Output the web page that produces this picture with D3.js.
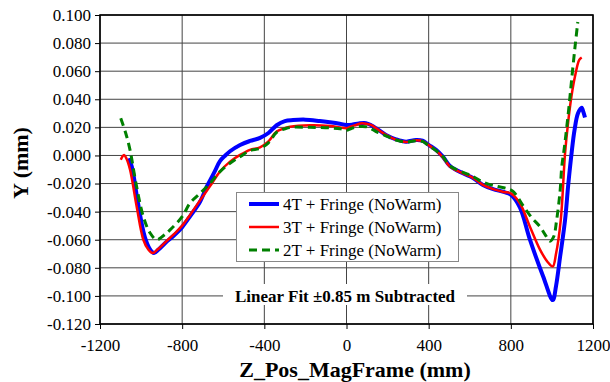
<!DOCTYPE html>
<html><head><meta charset="utf-8">
<script src="https://cdn.jsdelivr.net/npm/d3@7"></script>
<style>body{margin:0;background:#fff}svg{display:block}svg text{font-family:'Liberation Serif','Times New Roman',serif}</style>
</head><body>
<svg id="c" width="610" height="382"></svg>
<script>
const xTicks = [-1200, -800, -400, 0, 400, 800, 1200];
const yTicks = [0.100, 0.080, 0.060, 0.040, 0.020, 0.000, -0.020, -0.040, -0.060, -0.080, -0.100, -0.120];
const seriesNames = ["4T + Fringe (NoWarm)", "3T + Fringe (NoWarm)", "2T + Fringe (NoWarm)"];

const x4 = [-1060,-1045,-1015,-982,-958,-937,-915,-880,-840,-800,-760,-713,-680,-665,-640,-616,-590,-567,-518,-470,-421,-380,-340,-300,-260,-200,-130,-80,-40,0,30,60,95,120,144,192,241,290,338,370,400,436,470,504,567,616,664,714,765,800,844,893,957,1004,1020,1040,1064,1080,1096,1110,1127,1145,1153,1161];
const y4 = [-0.002,-0.008,-0.034,-0.058,-0.0665,-0.0695,-0.067,-0.062,-0.057,-0.051,-0.043,-0.033,-0.022,-0.018,-0.011,-0.004,0.000,0.003,0.0075,0.0103,0.0125,0.016,0.0215,0.0245,0.0252,0.0255,0.0245,0.0236,0.0228,0.0217,0.022,0.0228,0.023,0.0215,0.0194,0.0146,0.0115,0.0098,0.011,0.0105,0.0075,0.004,-0.001,-0.0075,-0.0127,-0.016,-0.021,-0.024,-0.026,-0.028,-0.037,-0.060,-0.086,-0.103,-0.093,-0.072,-0.046,-0.020,0.002,0.018,0.030,0.034,0.031,0.027];

const x3 = [-1099,-1090,-1083,-1072,-1054,-1022,-989,-965,-944,-920,-880,-840,-800,-760,-713,-665,-616,-567,-518,-470,-421,-380,-340,-300,-275,-178,-80,-32,0,20,46,75,100,124,144,192,241,290,338,370,400,436,470,504,567,616,664,714,765,800,844,893,942,980,1004,1020,1043,1064,1080,1095,1112,1133,1145];
const y3 = [-0.003,-0.0005,0.0004,-0.002,-0.010,-0.036,-0.060,-0.067,-0.0695,-0.067,-0.0615,-0.056,-0.050,-0.042,-0.032,-0.022,-0.0115,-0.0044,0.0004,0.004,0.0058,0.010,0.017,0.0195,0.0205,0.0215,0.021,0.020,0.0194,0.0205,0.0217,0.023,0.0225,0.0215,0.0194,0.0146,0.0112,0.0096,0.0108,0.0102,0.0074,0.0035,-0.0015,-0.008,-0.0127,-0.016,-0.021,-0.024,-0.026,-0.027,-0.034,-0.0507,-0.067,-0.076,-0.079,-0.070,-0.046,0.0016,0.025,0.042,0.056,0.068,0.0697];

const x2 = [-1099,-1075,-1054,-1022,-989,-957,-924,-890,-859,-800,-762,-713,-665,-616,-567,-518,-470,-421,-380,-340,-300,-275,-178,-80,-30,0,20,46,95,120,144,192,241,290,338,370,400,436,470,504,567,616,664,731,780,812,861,900,942,970,991,1008,1023,1040,1048,1060,1072,1084,1096,1113,1126];
const y2 = [0.0265,0.016,0.004,-0.022,-0.0436,-0.055,-0.060,-0.057,-0.053,-0.0436,-0.034,-0.027,-0.020,-0.0115,-0.0055,-0.0009,0.0034,0.005,0.009,0.0165,0.019,0.020,0.020,0.0196,0.019,0.018,0.019,0.0203,0.0205,0.019,0.017,0.014,0.011,0.0096,0.0105,0.010,0.007,0.0035,-0.001,-0.0075,-0.012,-0.015,-0.019,-0.022,-0.0235,-0.0258,-0.036,-0.044,-0.0507,-0.057,-0.061,-0.058,-0.046,-0.025,-0.008,0.005,0.020,0.036,0.054,0.078,0.095];

const colors = ["#0000ff", "#ff0000", "#008000"];
const widths = [4, 2.5, 3];
const dashes = [null, null, "8,5"];
const FONT = "'Liberation Serif', 'Times New Roman', serif";

const svg = d3.select("#c");
const L = 100, R = 593, T = 15, B = 324;
const x = d3.scaleLinear().domain([-1200, 1200]).range([L, R]);
const y = d3.scaleLinear().domain([-0.12, 0.10]).range([B, T]);

// gridlines
const g = svg.append("g");
g.selectAll("line.hy").data(yTicks).join("line")
  .attr("x1", L).attr("x2", R).attr("y1", d => y(d)).attr("y2", d => y(d))
  .attr("stroke", "#444").attr("stroke-width", 1);
g.selectAll("line.vx").data(xTicks).join("line")
  .attr("y1", T).attr("y2", B).attr("x1", d => x(d)).attr("x2", d => x(d))
  .attr("stroke", "#444").attr("stroke-width", 1);

// axes
const fmtY = d => (d < -1e-9 ? "-" : "") + Math.abs(d).toFixed(3);
const yAxis = d3.axisLeft(y).tickValues(yTicks).tickFormat(fmtY).tickSize(5).tickPadding(4);
const xAxis = d3.axisBottom(x).tickValues(xTicks).tickFormat(d => String(d)).tickSize(5).tickPadding(10);
const ya = svg.append("g").attr("transform", `translate(${L},0)`).call(yAxis);
const xa = svg.append("g").attr("transform", `translate(0,${B})`).call(xAxis);
[ya, xa].forEach(a => {
  a.attr("font-family", null).style("font-family", FONT).attr("font-size", null);
  a.select(".domain").remove();
  a.selectAll("line").attr("stroke", "#000");
  a.selectAll("text").style("font-family", FONT).style("font-size", "17px").attr("fill", "#000");
});

// "Linear Fit" label with white background
svg.append("rect").attr("x", 223).attr("y", 284).attr("width", 244).attr("height", 21).attr("fill", "#fff");
svg.append("text").attr("x", 345).attr("y", 302).attr("text-anchor", "middle")
  .style("font-family", FONT).attr("font-weight", "bold")
  .style("font-size", "17px").text("Linear Fit \u00b10.85 m Subtracted");

// series
const xs = [x4, x3, x2], ys = [y4, y3, y2];
const line = d3.line().x(d => x(d[0])).y(d => y(d[1])).curve(d3.curveCatmullRom.alpha(0.5));
const plot = svg.append("g");
xs.forEach((xv, i) => {
  const pts = xv.map((v, j) => [v, ys[i][j]]);
  plot.append("path").datum(pts).attr("d", line).attr("fill", "none")
    .attr("stroke", colors[i]).attr("stroke-width", widths[i])
    .attr("stroke-dasharray", dashes[i]).attr("stroke-linejoin", "round");
});

// frame
svg.append("rect").attr("x", L).attr("y", T).attr("width", R - L).attr("height", B - T)
  .attr("fill", "none").attr("stroke", "#000").attr("stroke-width", 1.6);

// legend
const lg = svg.append("g");
lg.append("rect").attr("x", 236.5).attr("y", 192.5).attr("width", 222).attr("height", 69)
  .attr("fill", "#fff").attr("stroke", "#888").attr("stroke-width", 1);
seriesNames.forEach((nm, i) => {
  const cy = 204 + i * 23;
  lg.append("line").attr("x1", 249).attr("x2", 279).attr("y1", cy).attr("y2", cy)
    .attr("stroke", colors[i]).attr("stroke-width", widths[i]).attr("stroke-dasharray", dashes[i]);
  lg.append("text").attr("x", 283).attr("y", cy + 6)
    .style("font-family", FONT).style("font-size", "17px")
    .text(nm);
});

// axis titles
svg.append("text").attr("x", 355).attr("y", 377).attr("text-anchor", "middle")
  .style("font-family", FONT).attr("font-weight", "bold")
  .style("font-size", "22px").text("Z_Pos_MagFrame (mm)");
svg.append("text").attr("transform", "translate(28,163) rotate(-90)").attr("text-anchor", "middle")
  .style("font-family", FONT).attr("font-weight", "bold")
  .style("font-size", "22px").text("Y (mm)");
</script>
</body></html>
